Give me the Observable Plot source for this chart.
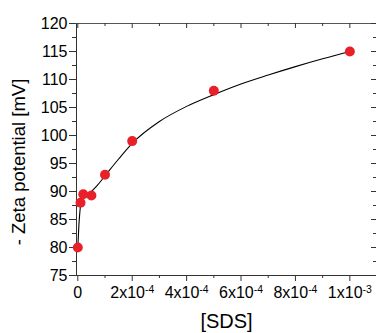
<!DOCTYPE html>
<html><head><meta charset="utf-8">
<script src="https://cdn.jsdelivr.net/npm/d3@7"></script>
<script src="https://cdn.jsdelivr.net/npm/@observablehq/plot@0.6"></script>
<style>
body{margin:0;background:#fff;}
svg{display:block;font-family:"Liberation Sans",Arial,sans-serif;}
</style>
</head><body><div id="chart"></div>
<script>
// Measured points
const sds = [0, 1e-5, 2e-5, 5e-5, 1e-4, 2e-4, 5e-4, 1e-3];
const zeta = [80, 88, 89.5, 89.3, 93, 99, 108, 115];
// Fitted curve
const fitSds = [0, 2e-6, 4e-6, 7e-6, 1e-5, 1.4e-5, 2e-5, 3e-5, 5e-5, 7e-5, 1e-4, 1.5e-4, 2e-4, 3e-4, 4e-4, 5e-4, 6e-4, 7e-4, 8e-4, 9e-4, 1e-3];
const fitZeta = [80, 82, 84, 86, 87.5, 88.5, 89.1, 89.5, 90.0, 91.0, 92.8, 95.8, 98.6, 102.5, 105.2, 107.3, 109.2, 110.8, 112.3, 113.7, 115];
// Ticks
const xMajor = [0, 2e-4, 4e-4, 6e-4, 8e-4, 1e-3];
const xMajorLabels = ["0", "2x10^-4", "4x10^-4", "6x10^-4", "8x10^-4", "1x10^-3"];
const xMinor = [1e-4, 3e-4, 5e-4, 7e-4, 9e-4];
const yMajor = [75, 80, 85, 90, 95, 100, 105, 110, 115, 120];
const yMinor = [77.5, 82.5, 87.5, 92.5, 97.5, 102.5, 107.5, 112.5, 117.5];
const xTitle = "[SDS]";
const yTitle = "- Zeta potential [mV]";

const points = sds.map((x, i) => ({x, y: zeta[i]}));
const fit = fitSds.map((x, i) => ({x, y: fitZeta[i]}));
const axisColor = "#333";

const chart = Plot.plot({
  width: 376,
  height: 333,
  marginLeft: 76,
  marginRight: 0,
  marginTop: 23,
  marginBottom: 58,
  style: {fontFamily: "Liberation Sans, Arial, sans-serif", background: "white", color: "black"},
  x: {domain: [-4.8e-6, 1.098e-3]},
  y: {domain: [75, 120]},
  marks: [
    Plot.frame({anchor: "left", stroke: axisColor}),
    Plot.frame({anchor: "bottom", stroke: axisColor}),
    Plot.frame({anchor: "top", stroke: "#555"}),
    Plot.axisY({ticks: yMajor, anchor: "left", tickSize: 7, tickPadding: 2, fontSize: 16, label: null, stroke: axisColor}),
    Plot.axisY({ticks: yMinor, anchor: "left", tickSize: 4, text: null, label: null, stroke: axisColor}),
    Plot.axisY({ticks: yMajor, anchor: "left", frameAnchor: "right", tickSize: 5, text: null, label: null, stroke: axisColor}),
    Plot.axisY({ticks: yMinor, anchor: "left", frameAnchor: "right", tickSize: 3, text: null, label: null, stroke: axisColor}),
    Plot.axisX({ticks: xMajor, anchor: "bottom", tickSize: 6, tickPadding: 5, fontSize: 16, label: null, stroke: axisColor,
      tickFormat: d => xMajorLabels[xMajor.indexOf(d)]}),
    Plot.axisX({ticks: xMinor, anchor: "bottom", tickSize: 3, text: null, label: null, stroke: axisColor}),
    Plot.axisX({ticks: xMajor, anchor: "bottom", frameAnchor: "top", tickSize: 5, text: null, label: null, stroke: axisColor}),
    Plot.axisX({ticks: xMinor, anchor: "bottom", frameAnchor: "top", tickSize: 3, text: null, label: null, stroke: axisColor}),
    Plot.line(fit, {x: "x", y: "y", curve: "monotone-x", stroke: "black", strokeWidth: 1.1}),
    Plot.dot(points, {x: "x", y: "y", r: 5, fill: "#e8202a", stroke: "none"}),
    Plot.text([yTitle], {text: d => d, frameAnchor: "left", textAnchor: "middle", lineAnchor: "middle", rotate: -90, dx: -57, dy: 12.5, fontSize: 18.5, fill: "black"}),
    Plot.text([xTitle], {text: d => d, frameAnchor: "bottom", textAnchor: "middle", lineAnchor: "middle", dy: 46.5, fontSize: 20, fill: "black"})
  ]
});

// superscript exponents in x tick labels
d3.select(chart).selectAll('g[aria-label="x-axis tick label"] text').each(function() {
  const t = this.textContent;
  const m = t.match(/^(.*)\^(.*)$/);
  if (m) {
    const sel = d3.select(this);
    sel.text(m[1]);
    sel.append("tspan").attr("dy", "-0.5em").attr("font-size", "0.65em").text(m[2]);
  }
});

document.getElementById("chart").appendChild(chart);
</script>
</body></html>
